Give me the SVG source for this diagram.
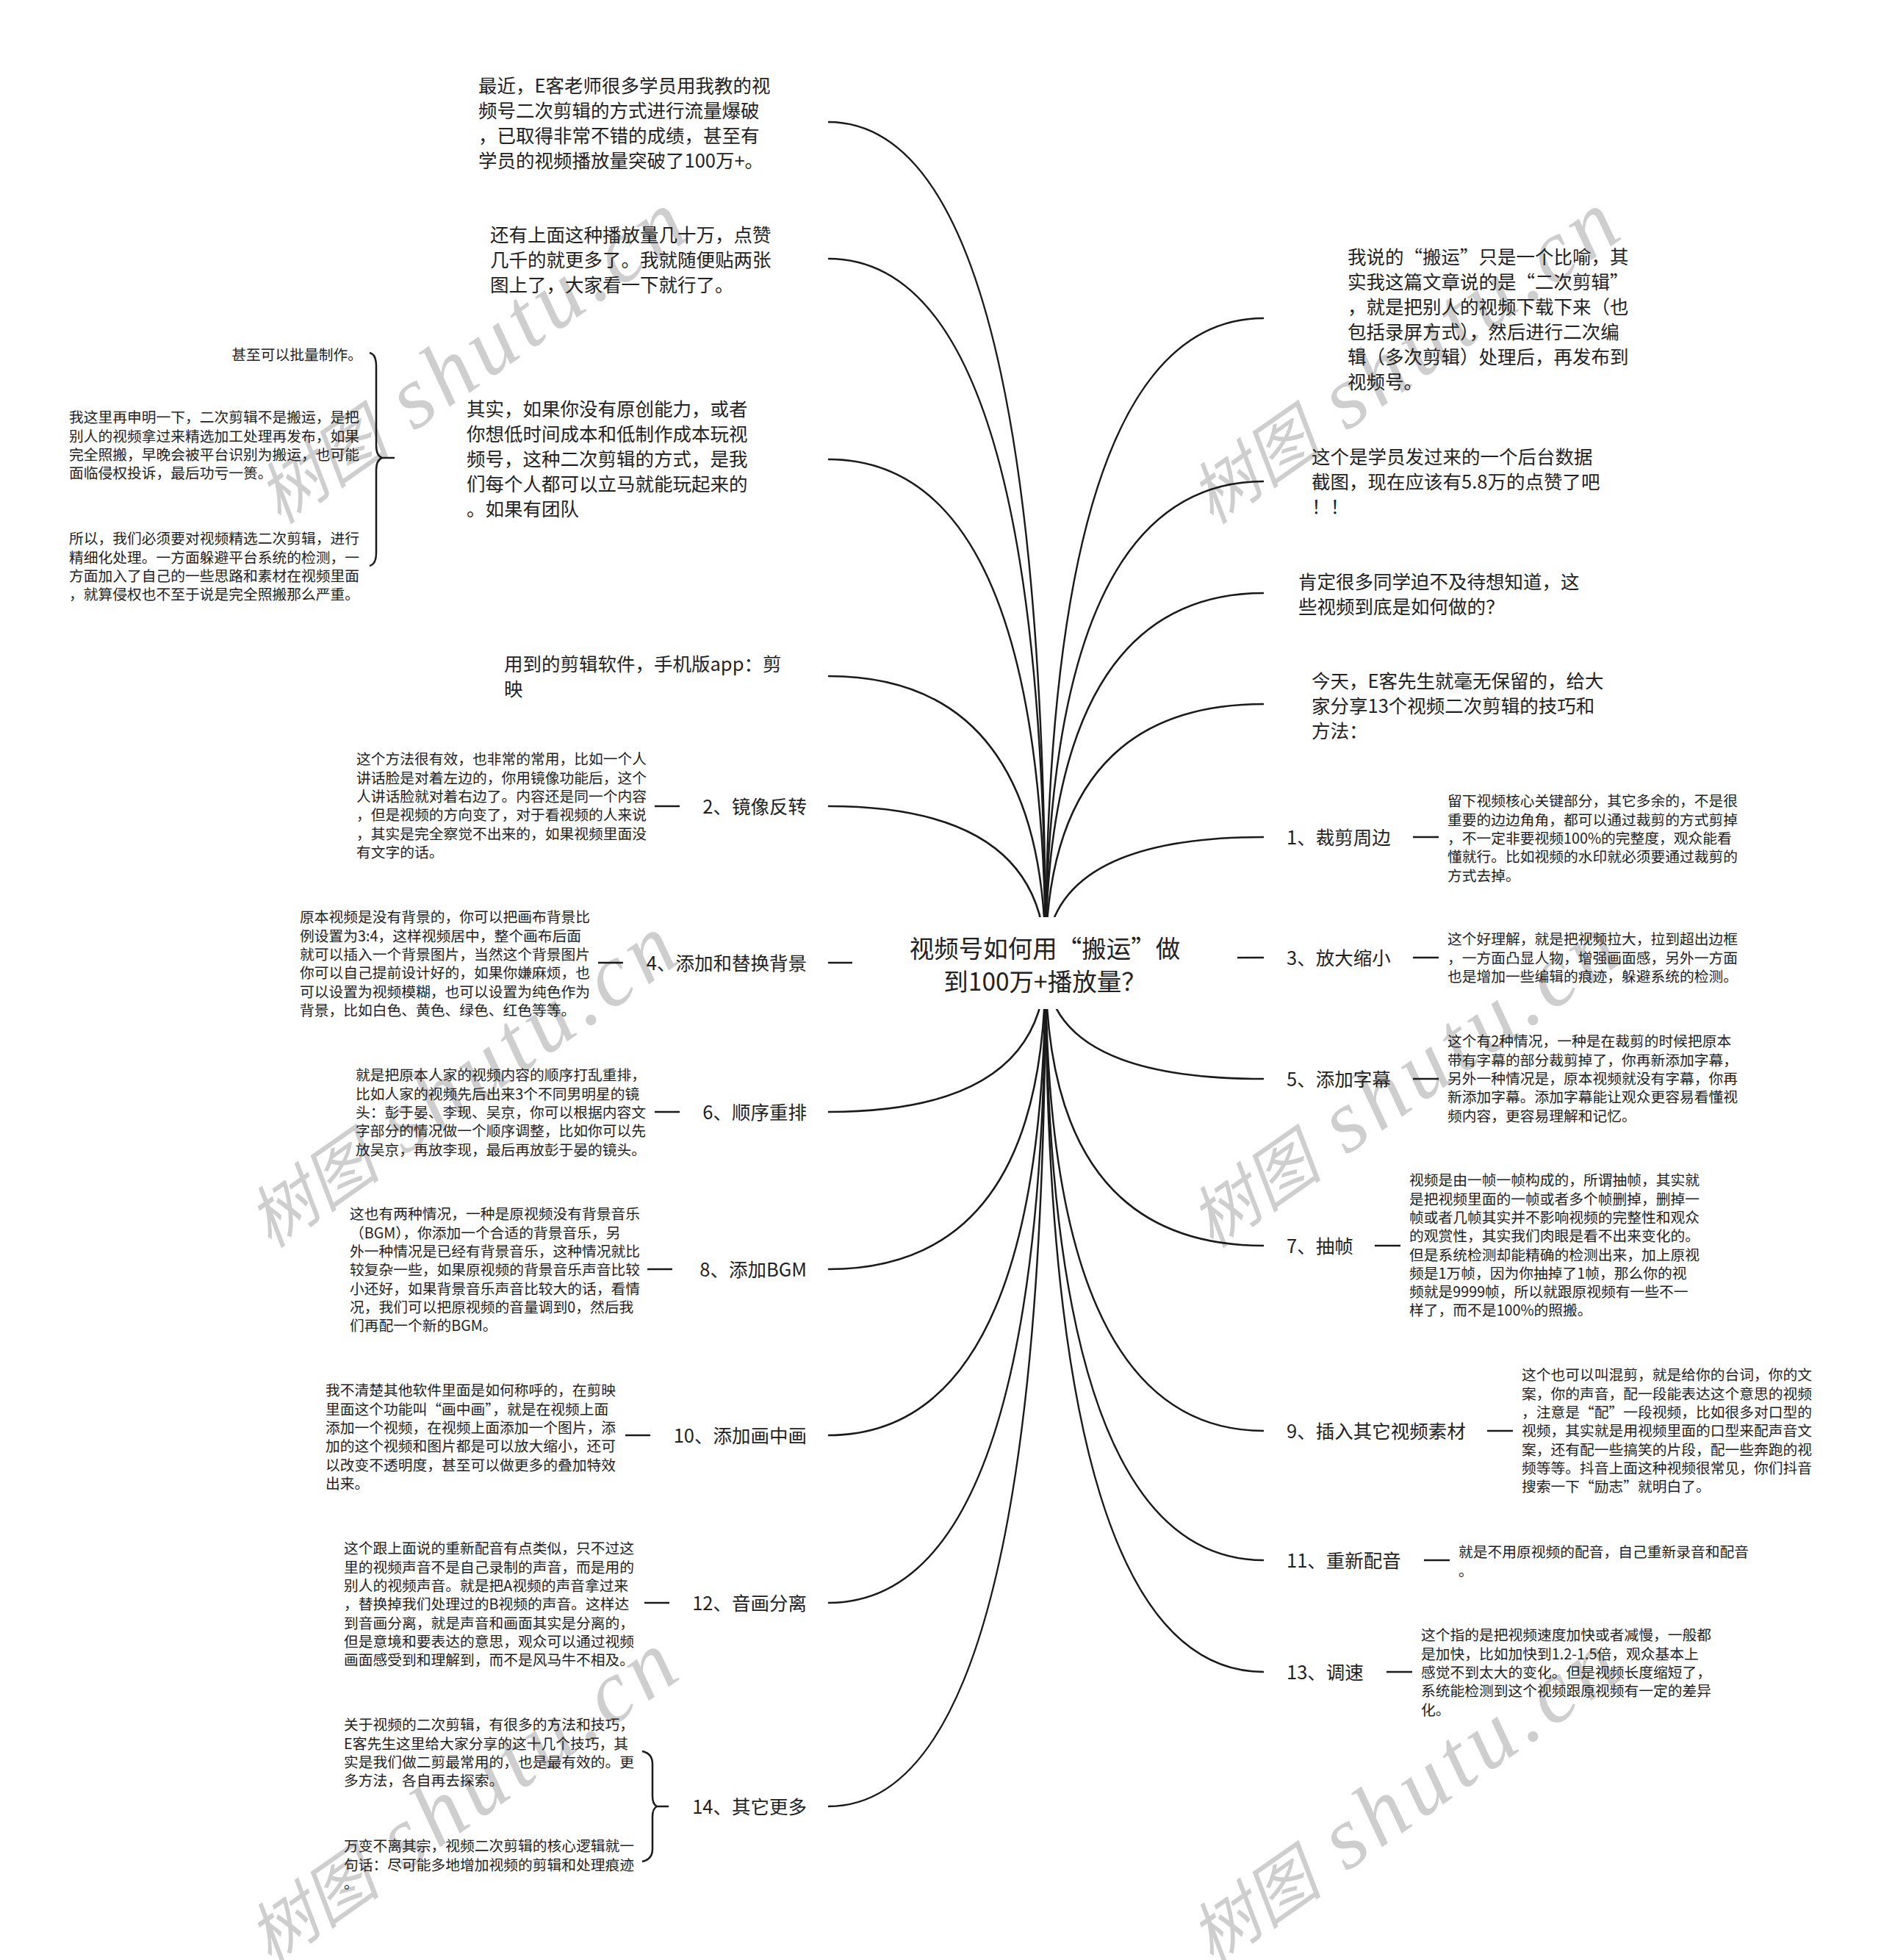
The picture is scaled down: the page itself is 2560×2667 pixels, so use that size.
<svg xmlns="http://www.w3.org/2000/svg" width="2560" height="2667" viewBox="0 0 2560 2667">
<style>
text{font-family:"Noto Sans CJK SC","Noto Sans",sans-serif;fill:#222}
.t1{font-size:25.5px}
.t2{font-size:19.75px}
.tc{font-size:33.5px;text-anchor:middle}
.le{text-anchor:end}
.c{fill:none;stroke:#1a1a1a;stroke-width:2.5}
.wm{font-family:"Liberation Serif","Noto Sans CJK SC",serif;font-style:italic;font-size:92px;fill:#000;opacity:0.19}
.wl{font-size:121px;letter-spacing:8px}
</style>
<rect width="2560" height="2667" fill="#fff"/>
<g id="watermarks">
<text class="wm" transform="translate(381,715) rotate(-35)">树图<tspan class="wl"> shutu.cn</tspan></text>
<text class="wm" transform="translate(1650,715) rotate(-35)">树图<tspan class="wl"> shutu.cn</tspan></text>
<text class="wm" transform="translate(368,1700) rotate(-35)">树图<tspan class="wl"> shutu.cn</tspan></text>
<text class="wm" transform="translate(1650,1700) rotate(-35)">树图<tspan class="wl"> shutu.cn</tspan></text>
<text class="wm" transform="translate(368,2675) rotate(-35)">树图<tspan class="wl"> shutu.cn</tspan></text>
<text class="wm" transform="translate(1650,2675) rotate(-35)">树图<tspan class="wl"> shutu.cn</tspan></text>
</g>
<g id="connectors">
<path class="c" d="M1423,1310 Q1423,166 1127,166"/>
<path class="c" d="M1423,1310 Q1423,352 1127,352"/>
<path class="c" d="M1423,1310 Q1423,625 1127,625"/>
<path class="c" d="M1423,1310 Q1423,920 1127,920"/>
<path class="c" d="M1423,1310 Q1423,1097 1127,1097"/>
<path class="c" d="M1423,1310 Q1423,1310 1127,1310"/>
<path class="c" d="M1423,1310 Q1423,1513 1127,1513"/>
<path class="c" d="M1423,1310 Q1423,1727 1127,1727"/>
<path class="c" d="M1423,1310 Q1423,1953 1127,1953"/>
<path class="c" d="M1423,1310 Q1423,2181 1127,2181"/>
<path class="c" d="M1423,1310 Q1423,2458 1127,2458"/>
<path class="c" d="M1423,1310 Q1423,433 1720,433"/>
<path class="c" d="M1423,1310 Q1423,655 1720,655"/>
<path class="c" d="M1423,1310 Q1423,807 1720,807"/>
<path class="c" d="M1423,1310 Q1423,958 1720,958"/>
<path class="c" d="M1423,1310 Q1423,1139 1720,1139"/>
<path class="c" d="M1423,1310 Q1423,1303 1720,1303"/>
<path class="c" d="M1423,1310 Q1423,1468 1720,1468"/>
<path class="c" d="M1423,1310 Q1423,1695 1720,1695"/>
<path class="c" d="M1423,1310 Q1423,1947 1720,1947"/>
<path class="c" d="M1423,1310 Q1423,2123 1720,2123"/>
<path class="c" d="M1423,1310 Q1423,2275 1720,2275"/>
<path class="c" d="M891,1097 H925 M814,1310 H848 M891,1513 H925 M881,1727 H915 M851,1953 H885 M877,2181 H911"/>
<path class="c" d="M1923,1139 H1958 M1923,1303 H1958 M1923,1468 H1958 M1871,1695 H1906 M2024,1947 H2059 M1938,2123 H1973 M1887,2275 H1922"/>
<path class="c" d="M503,480 Q512,482 512,498 L512,606 Q512,620 520,623 Q512,626 512,640 L512,752 Q512,768 503,770 M520,623 H537"/>
<path class="c" d="M874,2383 Q888,2386 888,2400 L888,2444 Q888,2455 894,2458 Q888,2461 888,2472 L888,2516 Q888,2530 874,2533 M894,2458 H910"/>
</g>
<g id="center">
<rect x="1160" y="1248" width="524" height="125" fill="#fff"/>
<text class="tc"><tspan x="1422" y="1303">视频号如何用“搬运”做</tspan><tspan x="1422" y="1348">到100万+播放量？</tspan></text>
</g>
<g id="t1"><text class="t1"><tspan x="651" y="125.5">最近，E客老师很多学员用我教的视</tspan><tspan x="651" y="159.5">频号二次剪辑的方式进行流量爆破</tspan><tspan x="651" y="193.5">，已取得非常不错的成绩，甚至有</tspan><tspan x="651" y="227.5">学员的视频播放量突破了100万+。</tspan></text></g>
<g id="t2"><text class="t1"><tspan x="667" y="328.5">还有上面这种播放量几十万，点赞</tspan><tspan x="667" y="362.5">几千的就更多了。我就随便贴两张</tspan><tspan x="667" y="396.5">图上了，大家看一下就行了。</tspan></text></g>
<g id="t3"><text class="t1"><tspan x="635" y="565.5">其实，如果你没有原创能力，或者</tspan><tspan x="635" y="599.5">你想低时间成本和低制作成本玩视</tspan><tspan x="635" y="633.5">频号，这种二次剪辑的方式，是我</tspan><tspan x="635" y="667.5">们每个人都可以立马就能玩起来的</tspan><tspan x="635" y="701.5">。如果有团队</tspan></text></g>
<g id="t3a"><text class="t2 le" x="493" y="490.3">甚至可以批量制作。</text></g>
<g id="t3b"><text class="t2"><tspan x="94" y="575.3">我这里再申明一下，二次剪辑不是搬运，是把</tspan><tspan x="94" y="600.6">别人的视频拿过来精选加工处理再发布，如果</tspan><tspan x="94" y="625.9">完全照搬，早晚会被平台识别为搬运，也可能</tspan><tspan x="94" y="651.2">面临侵权投诉，最后功亏一篑。</tspan></text></g>
<g id="t3c"><text class="t2"><tspan x="94" y="740.3">所以，我们必须要对视频精选二次剪辑，进行</tspan><tspan x="94" y="765.6">精细化处理。一方面躲避平台系统的检测，一</tspan><tspan x="94" y="790.9">方面加入了自己的一些思路和素材在视频里面</tspan><tspan x="94" y="816.2">，就算侵权也不至于说是完全照搬那么严重。</tspan></text></g>
<g id="t4"><text class="t1"><tspan x="686" y="912.5">用到的剪辑软件，手机版app：剪</tspan><tspan x="686" y="946.5">映</tspan></text></g>
<g id="l2"><text class="t1 le" x="1098" y="1106.5">2、镜像反转</text></g>
<g id="d2"><text class="t2"><tspan x="485" y="1040.3">这个方法很有效，也非常的常用，比如一个人</tspan><tspan x="485" y="1065.6">讲话脸是对着左边的，你用镜像功能后，这个</tspan><tspan x="485" y="1090.9">人讲话脸就对着右边了。内容还是同一个内容</tspan><tspan x="485" y="1116.2">，但是视频的方向变了，对于看视频的人来说</tspan><tspan x="485" y="1141.5">，其实是完全察觉不出来的，如果视频里面没</tspan><tspan x="485" y="1166.8">有文字的话。</tspan></text></g>
<g id="l4"><text class="t1 le" x="1098" y="1319.5">4、添加和替换背景</text></g>
<g id="d4"><text class="t2"><tspan x="408" y="1255.3">原本视频是没有背景的，你可以把画布背景比</tspan><tspan x="408" y="1280.6">例设置为3:4，这样视频居中，整个画布后面</tspan><tspan x="408" y="1305.9">就可以插入一个背景图片，当然这个背景图片</tspan><tspan x="408" y="1331.2">你可以自己提前设计好的，如果你嫌麻烦，也</tspan><tspan x="408" y="1356.5">可以设置为视频模糊，也可以设置为纯色作为</tspan><tspan x="408" y="1381.8">背景，比如白色、黄色、绿色、红色等等。</tspan></text></g>
<g id="l6"><text class="t1 le" x="1098" y="1522.5">6、顺序重排</text></g>
<g id="d6"><text class="t2"><tspan x="484" y="1470.3">就是把原本人家的视频内容的顺序打乱重排，</tspan><tspan x="484" y="1495.6">比如人家的视频先后出来3个不同男明星的镜</tspan><tspan x="484" y="1520.9">头：彭于晏、李现、吴京，你可以根据内容文</tspan><tspan x="484" y="1546.2">字部分的情况做一个顺序调整，比如你可以先</tspan><tspan x="484" y="1571.5">放吴京，再放李现，最后再放彭于晏的镜头。</tspan></text></g>
<g id="l8"><text class="t1 le" x="1098" y="1736.5">8、添加BGM</text></g>
<g id="d8"><text class="t2"><tspan x="476" y="1659.3">这也有两种情况，一种是原视频没有背景音乐</tspan><tspan x="476" y="1684.6">（BGM），你添加一个合适的背景音乐，另</tspan><tspan x="476" y="1709.9">外一种情况是已经有背景音乐，这种情况就比</tspan><tspan x="476" y="1735.2">较复杂一些，如果原视频的背景音乐声音比较</tspan><tspan x="476" y="1760.5">小还好，如果背景音乐声音比较大的话，看情</tspan><tspan x="476" y="1785.8">况，我们可以把原视频的音量调到0，然后我</tspan><tspan x="476" y="1811.1">们再配一个新的BGM。</tspan></text></g>
<g id="l10"><text class="t1 le" x="1098" y="1962.5">10、添加画中画</text></g>
<g id="d10"><text class="t2"><tspan x="443" y="1899.3">我不清楚其他软件里面是如何称呼的，在剪映</tspan><tspan x="443" y="1924.6">里面这个功能叫“画中画”，就是在视频上面</tspan><tspan x="443" y="1949.9">添加一个视频，在视频上面添加一个图片，添</tspan><tspan x="443" y="1975.2">加的这个视频和图片都是可以放大缩小，还可</tspan><tspan x="443" y="2000.5">以改变不透明度，甚至可以做更多的叠加特效</tspan><tspan x="443" y="2025.8">出来。</tspan></text></g>
<g id="l12"><text class="t1 le" x="1098" y="2190.5">12、音画分离</text></g>
<g id="d12"><text class="t2"><tspan x="468" y="2114.3">这个跟上面说的重新配音有点类似，只不过这</tspan><tspan x="468" y="2139.6">里的视频声音不是自己录制的声音，而是用的</tspan><tspan x="468" y="2164.9">别人的视频声音。就是把A视频的声音拿过来</tspan><tspan x="468" y="2190.2">，替换掉我们处理过的B视频的声音。这样达</tspan><tspan x="468" y="2215.5">到音画分离，就是声音和画面其实是分离的，</tspan><tspan x="468" y="2240.8">但是意境和要表达的意思，观众可以通过视频</tspan><tspan x="468" y="2266.1">画面感受到和理解到，而不是风马牛不相及。</tspan></text></g>
<g id="l14"><text class="t1 le" x="1098" y="2467.5">14、其它更多</text></g>
<g id="d14a"><text class="t2"><tspan x="468" y="2354.3">关于视频的二次剪辑，有很多的方法和技巧，</tspan><tspan x="468" y="2379.6">E客先生这里给大家分享的这十几个技巧，其</tspan><tspan x="468" y="2404.9">实是我们做二剪最常用的，也是最有效的。更</tspan><tspan x="468" y="2430.2">多方法，各自再去探索。</tspan></text></g>
<g id="d14b"><text class="t2"><tspan x="468" y="2519.3">万变不离其宗，视频二次剪辑的核心逻辑就一</tspan><tspan x="468" y="2544.6">句话：尽可能多地增加视频的剪辑和处理痕迹</tspan><tspan x="468" y="2569.9">。</tspan></text></g>
<g id="r1"><text class="t1"><tspan x="1834" y="358.5">我说的“搬运”只是一个比喻，其</tspan><tspan x="1834" y="392.5">实我这篇文章说的是“二次剪辑”</tspan><tspan x="1834" y="426.5">，就是把别人的视频下载下来（也</tspan><tspan x="1834" y="460.5">包括录屏方式），然后进行二次编</tspan><tspan x="1834" y="494.5">辑（多次剪辑）处理后，再发布到</tspan><tspan x="1834" y="528.5">视频号。</tspan></text></g>
<g id="r2"><text class="t1"><tspan x="1785" y="630.5">这个是学员发过来的一个后台数据</tspan><tspan x="1785" y="664.5">截图，现在应该有5.8万的点赞了吧</tspan><tspan x="1785" y="698.5">！！</tspan></text></g>
<g id="r3"><text class="t1"><tspan x="1767" y="800.5">肯定很多同学迫不及待想知道，这</tspan><tspan x="1767" y="834.5">些视频到底是如何做的？</tspan></text></g>
<g id="r4"><text class="t1"><tspan x="1785" y="935.5">今天，E客先生就毫无保留的，给大</tspan><tspan x="1785" y="969.5">家分享13个视频二次剪辑的技巧和</tspan><tspan x="1785" y="1003.5">方法：</tspan></text></g>
<g id="n1"><text class="t1" x="1751" y="1148.5">1、裁剪周边</text></g>
<g id="e1"><text class="t2"><tspan x="1970" y="1097.3">留下视频核心关键部分，其它多余的，不是很</tspan><tspan x="1970" y="1122.6">重要的边边角角，都可以通过裁剪的方式剪掉</tspan><tspan x="1970" y="1147.9">，不一定非要视频100%的完整度，观众能看</tspan><tspan x="1970" y="1173.2">懂就行。比如视频的水印就必须要通过裁剪的</tspan><tspan x="1970" y="1198.5">方式去掉。</tspan></text></g>
<g id="n3"><text class="t1" x="1751" y="1312.5">3、放大缩小</text></g>
<g id="e3"><text class="t2"><tspan x="1970" y="1285.3">这个好理解，就是把视频拉大，拉到超出边框</tspan><tspan x="1970" y="1310.6">，一方面凸显人物，增强画面感，另外一方面</tspan><tspan x="1970" y="1335.9">也是增加一些编辑的痕迹，躲避系统的检测。</tspan></text></g>
<g id="n5"><text class="t1" x="1751" y="1477.5">5、添加字幕</text></g>
<g id="e5"><text class="t2"><tspan x="1970" y="1424.3">这个有2种情况，一种是在裁剪的时候把原本</tspan><tspan x="1970" y="1449.6">带有字幕的部分裁剪掉了，你再新添加字幕，</tspan><tspan x="1970" y="1474.9">另外一种情况是，原本视频就没有字幕，你再</tspan><tspan x="1970" y="1500.2">新添加字幕。添加字幕能让观众更容易看懂视</tspan><tspan x="1970" y="1525.5">频内容，更容易理解和记忆。</tspan></text></g>
<g id="n7"><text class="t1" x="1751" y="1704.5">7、抽帧</text></g>
<g id="e7"><text class="t2"><tspan x="1918" y="1613.3">视频是由一帧一帧构成的，所谓抽帧，其实就</tspan><tspan x="1918" y="1638.6">是把视频里面的一帧或者多个帧删掉，删掉一</tspan><tspan x="1918" y="1663.9">帧或者几帧其实并不影响视频的完整性和观众</tspan><tspan x="1918" y="1689.2">的观赏性，其实我们肉眼是看不出来变化的。</tspan><tspan x="1918" y="1714.5">但是系统检测却能精确的检测出来，加上原视</tspan><tspan x="1918" y="1739.8">频是1万帧，因为你抽掉了1帧，那么你的视</tspan><tspan x="1918" y="1765.1">频就是9999帧，所以就跟原视频有一些不一</tspan><tspan x="1918" y="1790.4">样了，而不是100%的照搬。</tspan></text></g>
<g id="n9"><text class="t1" x="1751" y="1956.5">9、插入其它视频素材</text></g>
<g id="e9"><text class="t2"><tspan x="2071" y="1878.3">这个也可以叫混剪，就是给你的台词，你的文</tspan><tspan x="2071" y="1903.6">案，你的声音，配一段能表达这个意思的视频</tspan><tspan x="2071" y="1928.9">，注意是“配”一段视频，比如很多对口型的</tspan><tspan x="2071" y="1954.2">视频，其实就是用视频里面的口型来配声音文</tspan><tspan x="2071" y="1979.5">案，还有配一些搞笑的片段，配一些奔跑的视</tspan><tspan x="2071" y="2004.8">频等等。抖音上面这种视频很常见，你们抖音</tspan><tspan x="2071" y="2030.1">搜索一下“励志”就明白了。</tspan></text></g>
<g id="n11"><text class="t1" x="1751" y="2132.5">11、重新配音</text></g>
<g id="e11"><text class="t2"><tspan x="1985" y="2119.3">就是不用原视频的配音，自己重新录音和配音</tspan><tspan x="1985" y="2144.6">。</tspan></text></g>
<g id="n13"><text class="t1" x="1751" y="2284.5">13、调速</text></g>
<g id="e13"><text class="t2"><tspan x="1934" y="2232.3">这个指的是把视频速度加快或者减慢，一般都</tspan><tspan x="1934" y="2257.6">是加快，比如加快到1.2-1.5倍，观众基本上</tspan><tspan x="1934" y="2282.9">感觉不到太大的变化。但是视频长度缩短了，</tspan><tspan x="1934" y="2308.2">系统能检测到这个视频跟原视频有一定的差异</tspan><tspan x="1934" y="2333.5">化。</tspan></text></g>
</svg>
